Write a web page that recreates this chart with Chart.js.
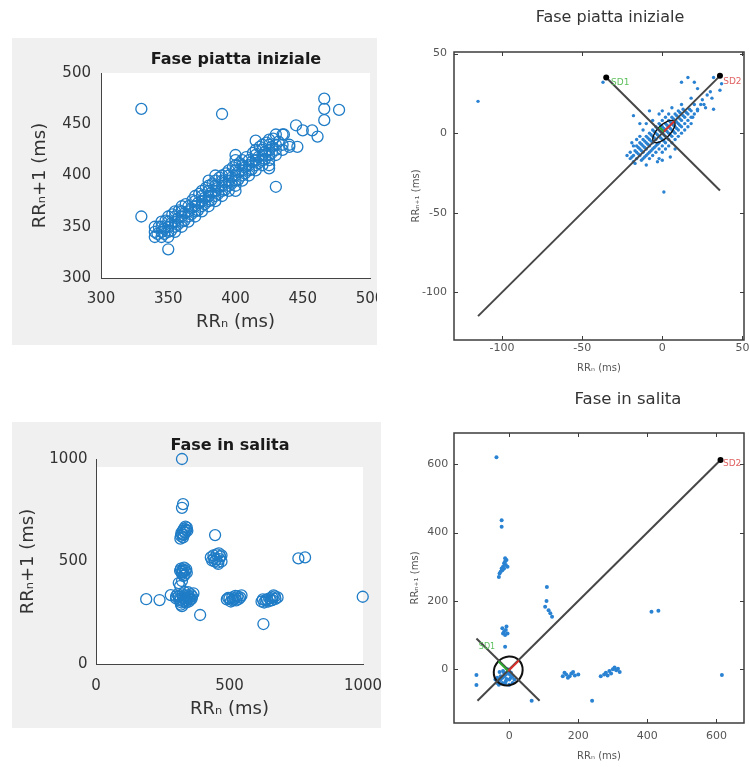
<!DOCTYPE html>
<html>
<head>
<meta charset="utf-8">
<script src="https://cdn.jsdelivr.net/npm/chart.js@4.4.1/dist/chart.umd.min.js"></script>
<style>
  html, body { margin: 0; padding: 0; overflow: hidden; background: #fff; }
  #page { position: relative; width: 750px; height: 767px; overflow: hidden; }
  .panel { position: absolute; overflow: hidden; }
  .gray { background: #f0f0f0; }
  canvas { position: absolute; left: 0; top: 0; }
</style>
</head>
<body>
<div id="page">
  <div class="panel gray" style="left:12px;top:38px;width:365px;height:307px">
    <canvas id="flatRR" width="448" height="307"></canvas>
  </div>
  <div class="panel gray" style="left:12px;top:422px;width:369px;height:306px">
    <canvas id="climbRR" width="436" height="306"></canvas>
  </div>
  <div class="panel" style="left:400px;top:0;width:350px;height:385px">
    <canvas id="flatPoin" width="420" height="385"></canvas>
  </div>
  <div class="panel" style="left:400px;top:375px;width:350px;height:392px">
    <canvas id="climbPoin" width="456" height="392"></canvas>
  </div>
</div>
<script>
// ---------- Fase piatta iniziale: RR(n) vs RR(n+1), ms ----------
const flatPairs = [
  [340,340],[340,345],[340,350],
  [345,340],[345,345],[345,350],[345,355],
  [350,340],[350,345],[350,350],[350,355],[350,360],
  [355,345],[355,350],[355,355],[355,360],[355,365],
  [360,350],[360,355],[360,360],[360,365],[360,370],
  [365,355],[365,360],[365,365],[365,370],
  [370,360],[370,365],[370,370],[370,375],[370,380],
  [375,365],[375,370],[375,375],[375,380],[375,385],
  [380,370],[380,375],[380,380],[380,385],[380,390],[380,395],
  [385,375],[385,380],[385,385],[385,390],[385,395],[385,400],
  [390,380],[390,385],[390,390],[390,395],[390,400],
  [395,385],[395,390],[395,395],[395,400],[395,405],
  [400,385],[400,390],[400,395],[400,400],[400,405],[400,410],[400,415],[400,420],
  [405,395],[405,400],[405,405],[405,410],[405,415],
  [410,400],[410,405],[410,410],[410,415],
  [415,405],[415,410],[415,415],[415,420],[415,425],
  [420,410],[420,415],[420,420],[420,425],[420,430],
  [425,410],[425,415],[425,420],[425,425],[425,430],[425,435],
  [430,420],[430,425],[430,430],[430,440],
  [435,425],[435,430],[435,440],
  [440,430],
  [342,343],[347,348],[352,353],[357,358],[362,363],[367,368],[372,373],[377,378],
  [382,383],[387,388],[392,393],[397,398],[402,403],[407,408],[412,413],[417,418],
  [422,423],[427,428],[432,433],
  [347,343],[352,346],[357,352],[362,356],[367,362],[372,366],[377,372],[382,376],
  [387,382],[392,386],[397,392],[402,396],[407,402],[412,406],[417,412],[422,416],
  [427,422],
  [343,350],[348,356],[353,362],[358,366],[363,372],[368,376],[373,382],[378,388],
  [383,392],[388,398],[393,402],[398,408],[403,412],[408,418],[413,422],[418,428],
  [423,432],[428,436],
  [330,465],[390,460],[330,360],[350,328],[430,389],
  [466,475],[466,465],[466,454],[477,464],
  [445,449],[450,444],[457,444],[461,438],
  [446,428],[440,428],[436,440],[415,434],[425,407]
];
const flatTicks = [300, 350, 400, 450, 500];

// ---------- Fase in salita: RR(n) vs RR(n+1), ms ----------
const climbPairs = [
  [322,1000],[326,780],[322,762],
  [318,625],[320,640],[322,632],[325,650],[328,630],[330,660],[332,645],
  [335,670],[338,655],[340,665],[326,618],[334,640],[342,650],[316,612],
  [315,455],[320,450],[322,440],[325,460],[328,430],[330,470],[335,455],
  [340,445],[318,465],[332,435],[338,462],[326,448],
  [310,395],[315,380],[322,405],
  [300,320],[305,340],[310,330],[312,318],[315,310],[318,290],[320,300],
  [322,282],[325,340],[328,305],[330,320],[335,330],[338,300],[340,310],
  [345,335],[345,350],[350,325],[352,315],[355,340],[360,330],[365,345],
  [300,330],[332,350],[342,322],[358,318],[348,305],[326,322],[336,312],
  [188,316],[238,312],[280,336],[390,239],[446,629],
  [430,520],[435,505],[440,530],[445,500],[450,510],[455,495],[460,540],
  [465,525],[470,500],[470,530],[452,535],[442,515],[462,512],[458,488],
  [490,315],[500,320],[505,305],[510,325],[515,315],[520,320],[525,310],
  [530,330],[540,325],[545,335],[495,322],[535,318],[512,310],[522,332],
  [620,305],[630,300],[635,310],[640,315],[650,320],[655,310],[660,325],
  [665,335],[670,330],[680,325],[625,315],[645,305],[672,318],[660,312],
  [627,195],[758,515],[783,520],[999,328]
];
const climbTicks = [0, 500, 1000];

// ---------- Poincaré, fase piatta (ms, valori centrati) ----------
const flatPoinPairs = [
  [-20,-12],[-18,-14],[-16,-12],[-16,-8],[-14,-10],[-14,-6],[-12,-12],[-12,-8],
  [-12,-4],[-10,-10],[-10,-6],[-10,-2],[-10,-14],[-8,-8],[-8,-4],[-8,0],[-8,-12],
  [-6,-10],[-6,-6],[-6,-2],[-6,2],[-6,-14],[-4,-8],[-4,-4],[-4,0],[-4,4],[-4,-12],
  [-2,-6],[-2,-2],[-2,2],[-2,6],[-2,-10],[0,-8],[0,-4],[0,0],[0,4],[0,8],[0,-12],
  [2,-6],[2,-2],[2,2],[2,6],[2,10],[2,-10],[4,-4],[4,0],[4,4],[4,8],[4,12],[4,-8],
  [6,-2],[6,2],[6,6],[6,10],[6,-6],[8,0],[8,4],[8,8],[8,12],[8,-4],[10,2],[10,6],
  [10,10],[10,14],[10,-2],[12,4],[12,8],[12,12],[12,0],[14,6],[14,10],[14,14],
  [16,8],[16,12],[18,10],[18,14],[-14,-14],[-16,-16],[-12,-16],[-18,-18],[-8,-16],
  [-20,-16],[-3,-18],[5,-15],[-14,-2],[-16,-4],[-12,2],[-10,6],[-6,8],[-2,12],
  [0,14],[6,16],[12,18],[16,4],[18,6],[20,12],[22,14],[14,2],[20,18],[-8,14],
  [-2,-16],[8,-10],[-22,-14],[-18,-8],
  [-19,-15],[-17,-11],[-15,-13],[-15,-9],[-13,-7],[-13,-11],[-11,-9],[-11,-5],
  [-9,-7],[-9,-3],[-7,-5],[-7,-1],[-5,-3],[-5,1],[-3,-1],[-3,3],[-1,1],[-1,5],
  [1,3],[1,-1],[3,5],[3,1],[5,7],[5,3],[7,9],[7,5],[9,11],[9,7],[11,13],[11,9],
  [13,15],[13,11],[15,13],[17,15],[-1,-3],[1,-5],[3,-3],[5,-1],[7,1],[9,3],
  [11,5],[-3,-7],[-5,-9],[-7,-11],[-9,-13],[-11,-15],[-13,-17],[-17,-19],
  [-115,20],[-37,32],[16,35],[12,32],[20,32],[25,21],[28,24],[31,22],[32,15],
  [36,27],[37,31],[32,35],[-18,11],[-19,-6],[1,-37],[-10,-20],[0,-17],[22,28],
  [19,10],[24,18],[27,16],[30,26],[18,22],[-14,6],[22,15],[26,18]
];
const flatPoinTicks = [-100, -50, 0, 50];
const flatIdentity = [[-115,-115],[36,36]];
const flatPerp = [[-35,35],[36,-36]];
const flatSD2Seg = [[1,1],[7.4,7.4]];
const flatSD1Seg = [[1,1],[-1.8,3.8]];
const flatEnds = [[-35,35],[36,36]];
const flatEllipse = [1, 1, 4, 9];      // centro x, centro y, SD1, SD2

// ---------- Poincaré, fase in salita (ms, valori centrati) ----------
const climbPoinPairs = [
  [-37,620],[-22,436],[-22,417],
  [-30,270],[-28,280],[-25,285],[-20,290],[-18,300],[-15,310],[-12,315],
  [-10,305],[-8,320],[-15,295],[-22,295],[-5,300],[-12,325],
  [-20,120],[-15,110],[-10,115],[-5,105],[-18,105],[-8,125],[-12,100],
  [-12,66],
  [109,241],[104,183],[114,173],[119,164],[124,154],[108,200],
  [-95,-17],[-95,-46],[65,-92],[240,-92],
  [155,-20],[160,-10],[165,-15],[170,-25],[175,-20],[180,-12],[190,-18],
  [200,-15],[185,-8],
  [265,-20],[275,-15],[280,-10],[285,-18],[290,-5],[295,-12],[300,0],
  [305,5],[310,-3],[320,-8],[315,2],
  [412,168],[432,171],[616,-17],
  [-35,-40],[-30,-35],[-25,-30],[-20,-25],[-15,-20],[-10,-15],[-5,-10],
  [0,-5],[-30,-45],[-20,-40],[-10,-35],[0,-30],[5,-25],[10,-20],[-25,-20],
  [-15,-10],[-5,0],[5,-10],[15,-30],[-40,-30],[-35,-25],[10,-40],[0,-45],
  [-18,-5],[-28,-8],[-8,-28],[-12,-42],[2,-15]
];
const climbPoinTicks = [0, 200, 400, 600];
const climbIdentity = [[-92,-92],[612,612]];
const climbPerp = [[-95,90],[88,-92]];
const climbSD2Seg = [[-3,-5],[28,26]];
const climbSD1Seg = [[-3,-5],[-31,23]];
const climbEnds = [[612,612]];
const climbEllipse = [-3, -5, 40, 44];

// ---------- stile ----------
const FONT = 'DejaVu Sans';
const BLUE = '#1f7cc6';
const DOT = '#2a82d2';
const LINE = '#474747';
const GREEN = '#2fa82f';
const RED = '#d8302c';

const toXY = pairs => pairs.map(([x, y]) => ({ x, y }));
const fixTicks = list => scale => { scale.ticks = list.map(v => ({ value: v })); };
const plain = v => String(v);

// area bianca del grafico sopra lo sfondo grigio
const whiteArea = inset => ({
  id: 'whiteArea',
  beforeDraw(chart) {
    const { ctx, chartArea: a } = chart;
    ctx.save();
    ctx.fillStyle = '#ffffff';
    ctx.fillRect(a.left, a.top + inset, a.right - a.left, a.bottom - a.top - inset);
    ctx.restore();
  }
});

// cornice completa con tacche interne su tutti i lati
const framePlugin = {
  id: 'frame',
  afterDatasetsDraw(chart) {
    const { ctx, chartArea: a, scales: { x, y } } = chart;
    ctx.save();
    ctx.strokeStyle = '#3c3c3c';
    ctx.lineWidth = 1;
    ctx.beginPath();
    x.ticks.forEach(t => {
      const px = Math.round(x.getPixelForValue(t.value)) + 0.5;
      ctx.moveTo(px, a.bottom); ctx.lineTo(px, a.bottom - 4);
      ctx.moveTo(px, a.top); ctx.lineTo(px, a.top + 4);
    });
    y.ticks.forEach(t => {
      const py = Math.round(y.getPixelForValue(t.value)) + 0.5;
      ctx.moveTo(a.left, py); ctx.lineTo(a.left + 4, py);
      ctx.moveTo(a.right, py); ctx.lineTo(a.right - 4, py);
    });
    ctx.stroke();
    ctx.lineWidth = 1.5;
    ctx.strokeRect(a.left, a.top, a.right - a.left, a.bottom - a.top);
    ctx.restore();
  }
};

// ellisse SD1/SD2 (dopo i punti) ed etichette SD1 / SD2
function poincarePlugin(ell, ellWidth, labels) {
  return {
    id: 'poincare',
    afterDatasetDraw(chart, args) {
      if (args.index !== 0) return;
      const { ctx, scales: { x, y } } = chart;
      const [cx, cy, sd1, sd2] = ell;
      const kx = Math.abs(x.getPixelForValue(1) - x.getPixelForValue(0));
      const ky = Math.abs(y.getPixelForValue(1) - y.getPixelForValue(0));
      const k = (kx + ky) / 2;
      ctx.save();
      ctx.strokeStyle = '#111';
      ctx.lineWidth = ellWidth;
      ctx.beginPath();
      ctx.ellipse(x.getPixelForValue(cx), y.getPixelForValue(cy), sd2 * k, sd1 * k, -Math.PI / 4, 0, Math.PI * 2);
      ctx.stroke();
      ctx.restore();
    },
    afterDatasetsDraw(chart) {
      const { ctx, scales: { x, y } } = chart;
      ctx.save();
      ctx.textAlign = 'left';
      ctx.textBaseline = 'middle';
      labels.forEach(l => {
        ctx.font = l.size + 'px "' + FONT + '"';
        ctx.fillStyle = l.color;
        ctx.fillText(l.text, x.getPixelForValue(l.x), y.getPixelForValue(l.y));
      });
      ctx.restore();
    }
  };
}

const baseOptions = () => ({
  responsive: false,
  animation: false,
  devicePixelRatio: 1,
  events: [],
  layout: { padding: 0 }
});

const padAxis = w => ({
  axis: 'y', type: 'linear', position: 'right', display: true,
  grid: { display: false, drawTicks: false },
  border: { display: false },
  ticks: { display: false },
  afterFit: s => { s.width = w; }
});

// ---------- pannelli con cerchi (RRn vs RRn+1) ----------
function circlePanel(id, pairs, ticks, g) {
  const opts = baseOptions();
  opts.plugins = {
    legend: { display: false },
    tooltip: { enabled: false },
    title: {
      display: true, text: g.title, color: '#1a1a1a',
      font: { family: FONT, size: 16, weight: 'bold' },
      padding: { top: g.titleTop, bottom: g.titleBottom }
    }
  };
  const axisTitleFont = { family: FONT, size: 18 };
  opts.scales = {
    x: {
      type: 'linear', min: ticks[0], max: ticks[ticks.length - 1],
      afterBuildTicks: fixTicks(ticks),
      afterFit: s => { s.height = g.xHeight; },
      grid: { display: false, drawTicks: false },
      border: { display: true, color: '#444', width: 1 },
      ticks: { color: '#333', font: { family: FONT, size: 15 }, padding: g.xTickPad, callback: plain, maxRotation: 0, autoSkip: false },
      title: { display: true, text: 'RRₙ (ms)', color: '#333', font: axisTitleFont, padding: { top: 0, bottom: g.xTitlePad } }
    },
    y: {
      type: 'linear', min: ticks[0], max: ticks[ticks.length - 1],
      afterBuildTicks: fixTicks(ticks),
      afterFit: s => { s.width = g.yWidth; },
      grid: { display: false, drawTicks: false },
      border: { display: true, color: '#444', width: 1 },
      ticks: { color: '#333', font: { family: FONT, size: 15 }, padding: g.yTickPad, callback: plain, autoSkip: false },
      title: { display: true, text: 'RRₙ+1 (ms)', color: '#333', font: axisTitleFont, padding: { top: g.yTitlePad, bottom: 0 } }
    },
    pad: padAxis(g.padWidth)
  };
  return new Chart(document.getElementById(id), {
    type: 'scatter',
    data: {
      datasets: [{
        data: toXY(pairs),
        pointStyle: 'circle',
        pointRadius: 5.5,
        pointHoverRadius: 5.5,
        pointBorderWidth: 1.3,
        pointBorderColor: BLUE,
        pointBackgroundColor: 'rgba(0,0,0,0)',
        clip: false
      }]
    },
    options: opts,
    plugins: [whiteArea(g.whiteInset)]
  });
}

// ---------- pannelli di Poincaré ----------
function lineSet(pairs, color, width, order) {
  return {
    data: toXY(pairs), showLine: true, borderColor: color, borderWidth: width,
    pointRadius: 0, pointHoverRadius: 0, order, clip: false
  };
}

function poincarePanel(id, p) {
  const opts = baseOptions();
  opts.plugins = {
    legend: { display: false },
    tooltip: { enabled: false },
    title: {
      display: true, text: p.title, color: '#333',
      font: { family: FONT, size: p.titleSize, weight: 'normal' },
      padding: { top: p.titleTop, bottom: p.titleBottom }
    }
  };
  const tickFont = { family: FONT, size: 11 };
  const labFont = { family: FONT, size: 10 };
  opts.scales = {
    x: {
      type: 'linear', min: p.xRange[0], max: p.xRange[1],
      afterBuildTicks: fixTicks(p.ticks),
      afterFit: s => { s.height = p.xHeight; },
      grid: { display: false, drawTicks: false },
      border: { display: false },
      ticks: { color: '#555', font: tickFont, padding: p.xTickPad, callback: plain, maxRotation: 0, autoSkip: false },
      title: { display: true, text: 'RRₙ (ms)', color: '#555', font: labFont, padding: { top: 0, bottom: p.xTitlePad } }
    },
    y: {
      type: 'linear', min: p.yRange[0], max: p.yRange[1],
      afterBuildTicks: fixTicks(p.ticks),
      afterFit: s => { s.width = p.yWidth; },
      grid: { display: false, drawTicks: false },
      border: { display: false },
      ticks: { color: '#555', font: tickFont, padding: p.yTickPad, callback: plain, autoSkip: false },
      title: { display: true, text: 'RRₙ₊₁ (ms)', color: '#555', font: labFont, padding: { top: p.yTitlePad, bottom: 0 } }
    },
    pad: padAxis(p.padWidth)
  };
  return new Chart(document.getElementById(id), {
    type: 'scatter',
    data: {
      datasets: [
        {
          data: toXY(p.points), pointStyle: 'circle', pointRadius: p.dotRadius, pointHoverRadius: p.dotRadius,
          pointBorderWidth: 0, pointBackgroundColor: DOT, order: 5, clip: false
        },
        lineSet(p.identity, LINE, 2, 4),
        lineSet(p.perp, LINE, 2, 4),
        lineSet(p.sd2Seg, RED, 2, 2),
        lineSet(p.sd1Seg, GREEN, 2, 2),
        {
          data: toXY(p.ends), pointStyle: 'circle', pointRadius: 3, pointHoverRadius: 3,
          pointBorderWidth: 0, pointBackgroundColor: '#000', order: 1, clip: false
        }
      ]
    },
    options: opts,
    plugins: [framePlugin, poincarePlugin(p.ellipse, p.ellWidth, p.labels)]
  });
}

circlePanel('flatRR', flatPairs, flatTicks, {
  title: 'Fase piatta iniziale',
  titleTop: 12.4, titleBottom: 3.4,
  xHeight: 67, yWidth: 89, padWidth: 90,
  xTickPad: 12, yTickPad: 10, xTitlePad: 12.2, yTitlePad: 17.2,
  whiteInset: 0
});

circlePanel('climbRR', climbPairs, climbTicks, {
  title: 'Fase in salita',
  titleTop: 14.4, titleBottom: 3.4,
  xHeight: 64, yWidth: 84, padWidth: 85,
  xTickPad: 13.5, yTickPad: 8.5, xTitlePad: 7.5, yTitlePad: 5.2,
  whiteInset: 8
});

poincarePanel('flatPoin', {
  title: 'Fase piatta iniziale', titleSize: 16, titleTop: 8.4, titleBottom: 24.4,
  xRange: [-130, 51], yRange: [-130, 51], ticks: flatPoinTicks,
  xHeight: 45, yWidth: 54, padWidth: 76,
  xTickPad: 2, yTickPad: 7, xTitlePad: 11, yTitlePad: 10,
  points: flatPoinPairs, dotRadius: 1.7,
  identity: flatIdentity, perp: flatPerp, sd2Seg: flatSD2Seg, sd1Seg: flatSD1Seg,
  ends: flatEnds, ellipse: flatEllipse, ellWidth: 1.4,
  labels: [
    { text: 'SD1', x: -32, y: 32, color: '#5cbf5c', size: 9 },
    { text: 'SD2', x: 38, y: 32.5, color: '#e06262', size: 9 }
  ]
});

poincarePanel('climbPoin', {
  title: 'Fase in salita', titleSize: 16.5, titleTop: 15.1, titleBottom: 23.1,
  xRange: [-160, 680], yRange: [-157, 691], ticks: climbPoinTicks,
  xHeight: 44, yWidth: 54, padWidth: 112,
  xTickPad: 7, yTickPad: 5.7, xTitlePad: 4.3, yTitlePad: 9,
  points: climbPoinPairs, dotRadius: 2,
  identity: climbIdentity, perp: climbPerp, sd2Seg: climbSD2Seg, sd1Seg: climbSD1Seg,
  ends: climbEnds, ellipse: climbEllipse, ellWidth: 2,
  labels: [
    { text: 'SD1', x: -88, y: 65, color: '#5cbf5c', size: 8 },
    { text: 'SD2', x: 619, y: 600, color: '#e06262', size: 9 }
  ]
});
</script>
</body>
</html>
